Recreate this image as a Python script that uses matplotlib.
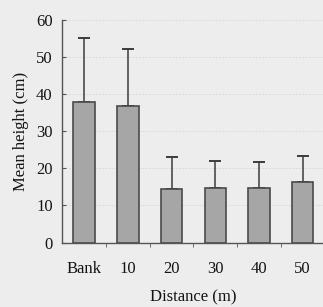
import matplotlib.pyplot as plt
import numpy as np

categories = ['Bank', '10', '20', '30', '40', '50']
mean_height = [38.0, 36.9, 14.3, 14.7, 14.7, 16.3]
sd_height = [17.2, 15.3, 8.7, 7.4, 7.0, 7.1]

plt.rcParams['font.family'] = ['Liberation Serif', 'DejaVu Serif']

fig = plt.figure(figsize=(3.23, 3.07), dpi=100)
fig.patch.set_facecolor('#ededed')
ax = fig.add_axes([0.193, 0.21, 0.81, 0.725])
ax.set_facecolor('#ededed')

x = np.arange(len(categories))
ax.bar(x, mean_height, width=0.49, color='#a6a6a6', edgecolor='#4a4a4a',
       linewidth=1.2, zorder=3)
ax.errorbar(x, mean_height, yerr=[np.zeros(len(x)), sd_height], fmt='none',
            ecolor='#3c3c3c', elinewidth=1.1, capsize=4.3, capthick=1.4, zorder=2)

ax.set_xlim(-0.5, 5.49)
ax.set_ylim(0, 60)
ax.set_yticks(range(0, 61, 10))
ax.set_xticks(x)
ax.set_xticklabels(categories)
ax.set_xticks(np.arange(0.5, 5.5, 1), minor=True)
ax.tick_params(axis='x', which='major', length=0, pad=13)
ax.tick_params(axis='x', which='minor', length=3, direction='out', color='#555555')
ax.tick_params(axis='y', length=3, direction='in', color='#555555', pad=7)
ax.tick_params(labelsize=12, labelcolor='#141414')

ax.yaxis.grid(True, color='#d4d4d4', linewidth=0.6, linestyle=(0, (2, 2)), zorder=0)
for side in ['top', 'right']:
    ax.spines[side].set_visible(False)
for side in ['left', 'bottom']:
    ax.spines[side].set_color('#555555')
    ax.spines[side].set_linewidth(1.0)

ax.set_ylabel('Mean height (cm)', fontsize=12, color='#141414', labelpad=5)
ax.set_xlabel('Distance (m)', fontsize=12, color='#141414', labelpad=9)

fig.savefig('out.png', dpi=100, facecolor=fig.get_facecolor())
